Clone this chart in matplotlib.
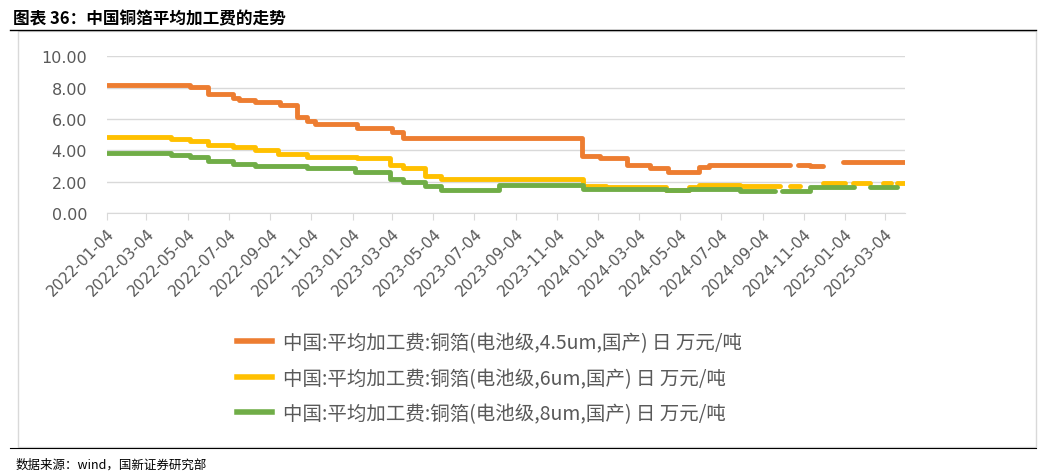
import numpy as np
import pandas as pd
import matplotlib.pyplot as plt
from matplotlib.lines import Line2D

plt.rcParams["font.family"] = ["Noto Sans CJK SC"]

# step start dates and values; NaN marks a gap in the data
orange_dates = ["2022-01-04", "2022-05-07", "2022-06-03", "2022-07-10", "2022-07-20", "2022-08-12",
                "2022-09-18", "2022-10-13", "2022-10-28", "2022-11-09", "2023-01-10", "2023-03-03",
                "2023-03-20", "2023-12-10", "2024-01-06", "2024-02-16", "2024-03-20", "2024-04-16",
                "2024-06-02", "2024-06-17", "2024-10-14", "2024-10-26", "2024-11-13", "2024-12-02",
                "2025-01-01", "2025-04-03"]
orange_vals = [8.15, 8.05, 7.6, 7.35, 7.2, 7.1, 6.9, 6.1, 5.9, 5.7, 5.4, 5.2, 4.8, 3.65, 3.5, 3.1,
               2.85, 2.65, 2.95, 3.1, np.nan, 3.1, 3.0, np.nan, 3.25, 3.25]

yellow_dates = ["2022-01-04", "2022-04-10", "2022-05-07", "2022-06-03", "2022-07-10", "2022-08-12",
                "2022-09-15", "2022-10-28", "2023-01-10", "2023-02-28", "2023-03-20", "2023-04-21",
                "2023-05-16", "2023-12-12", "2024-01-16", "2024-04-14", "2024-05-18", "2024-06-02",
                "2024-08-01", "2024-09-29", "2024-10-14", "2024-10-29", "2024-12-02", "2025-01-04",
                "2025-01-16", "2025-02-10", "2025-03-01", "2025-03-14", "2025-03-23", "2025-04-03"]
yellow_vals = [4.85, 4.75, 4.6, 4.35, 4.2, 4.05, 3.8, 3.6, 3.5, 3.05, 2.85, 2.4, 2.2, 1.75, 1.65,
               1.5, 1.65, 1.8, 1.7, np.nan, 1.7, np.nan, 1.95, np.nan, 1.95, np.nan, 1.95, np.nan,
               1.95, 1.95]

green_dates = ["2022-01-04", "2022-04-10", "2022-05-07", "2022-06-03", "2022-07-10", "2022-08-12",
               "2022-10-28", "2023-01-07", "2023-02-28", "2023-03-20", "2023-04-21", "2023-05-16",
               "2023-08-10", "2023-12-12", "2024-04-14", "2024-05-18", "2024-08-01", "2024-09-22",
               "2024-10-02", "2024-11-13", "2025-01-18", "2025-02-10", "2025-03-22"]
green_vals = [3.85, 3.7, 3.6, 3.35, 3.15, 3.0, 2.9, 2.6, 2.2, 2.0, 1.75, 1.45, 1.8, 1.55, 1.45,
              1.55, 1.4, np.nan, 1.4, 1.65, np.nan, 1.65, 1.65]

series = [
    (orange_dates, orange_vals, "#ED7D31", "中国:平均加工费:铜箔(电池级,4.5um,国产) 日 万元/吨"),
    (yellow_dates, yellow_vals, "#FFC000", "中国:平均加工费:铜箔(电池级,6um,国产) 日 万元/吨"),
    (green_dates, green_vals, "#70AD47", "中国:平均加工费:铜箔(电池级,8um,国产) 日 万元/吨"),
]
tick_dates = [pd.Timestamp(2022 + m // 12, m % 12 + 1, 4) for m in range(0, 39, 2)]

fig = plt.figure(figsize=(10.46, 4.77), dpi=100)
ax = fig.add_axes([0.102, 0.551, 0.763, 0.329])

for d, v, c, lab in series:
    ax.step(pd.to_datetime(d), v, where="post", color=c, lw=3.5, solid_capstyle="round")

ax.set_xlim(pd.Timestamp("2022-01-04"), pd.Timestamp("2025-04-03"))
ax.set_ylim(0, 10)
ax.set_yticks(np.arange(0, 10.1, 2))
ax.yaxis.set_major_formatter(plt.FuncFormatter(lambda v, p: f"{v:.2f}"))
ax.set_xticks(tick_dates)
ax.set_xticklabels([t.strftime("%Y-%m-%d") for t in tick_dates], rotation=45, ha="right",
                   rotation_mode="anchor", fontsize=11, color="#595959", fontfamily="DejaVu Sans")
ax.tick_params(axis="y", length=0, labelsize=11.5, labelcolor="#595959", pad=14)
ax.tick_params(axis="x", length=5, color="#D9D9D9", direction="out")
for lab in ax.get_yticklabels():
    lab.set_fontfamily("DejaVu Sans")
ax.grid(axis="y", color="#D9D9D9", lw=1)
ax.set_axisbelow(True)
for s in ["top", "right", "left"]:
    ax.spines[s].set_visible(False)
ax.spines["bottom"].set_color("#D9D9D9")

handles = [Line2D([], [], color=c, lw=4) for _, _, c, _ in series]
fig.legend(handles, [s[3] for s in series], loc="center", bbox_to_anchor=(0.468, 0.205),
           frameon=False, fontsize=14, labelspacing=0.75, handlelength=1.8, handletextpad=0.6,
           labelcolor="#595959")

# header / footer
fig.text(0.012, 0.96, "图表 36：中国铜箔平均加工费的走势", fontsize=12, fontweight="bold",
         style="italic", va="center")
fig.add_artist(Line2D([0.01, 0.99], [0.935, 0.935], color="black", lw=1))
fig.add_artist(plt.Rectangle((0.017, 0.06), 0.973, 0.873, fill=False, ec="#D9D9D9", lw=1))
fig.add_artist(Line2D([0.01, 0.99], [0.058, 0.058], color="black", lw=0.8))
fig.text(0.015, 0.025, "数据来源：wind，国新证券研究部", fontsize=9, va="center")

fig.savefig("out.png", dpi=100)
